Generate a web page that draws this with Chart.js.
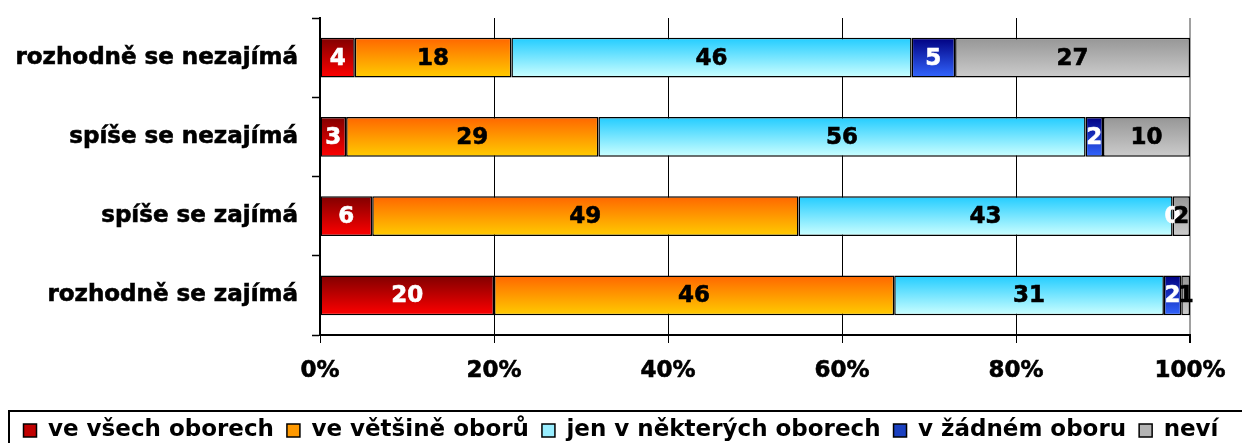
<!DOCTYPE html>
<html>
<head>
<meta charset="utf-8">
<script src="https://cdn.jsdelivr.net/npm/chart.js@4"></script>
<style>
  html, body { margin: 0; padding: 0; background: #fff; }
  #wrap { width: 1242px; height: 443px; }
</style>
</head>
<body>
<div id="wrap"><canvas id="graf"></canvas></div>
<script>
const categories = ['rozhodně se nezajímá', 'spíše se nezajímá', 'spíše se zajímá', 'rozhodně se zajímá'];
const seriesNames = ['ve všech oborech', 've většině oborů', 'jen v některých oborech', 'v žádném oboru', 'neví'];
const veVsech = [4, 3, 6, 20];
const veVetsine = [18, 29, 49, 46];
const jenNekterych = [46, 56, 43, 31];
const vZadnem = [5, 2, 0, 2];
const nevi = [27, 10, 2, 1];
const xTicks = [0, 20, 40, 60, 80, 100];

// barvy: [horni, dolni, popisek, legenda]
const colors = [
    ['#800000', '#ff0000', '#ffffff', '#c00000'],
    ['#ff6600', '#ffcc00', '#000000', '#ff9900'],
    ['#22ccff', '#ccffff', '#000000', '#99eeff'],
    ['#000080', '#3366ff', '#ffffff', '#1a40c0'],
    ['#969696', '#cccccc', '#000000', '#b4b4b4']
];
const FONT = 'DejaVu Sans';
const barPct = 0.5;

function gradFill(i) {
    return function (ctx) {
        const chart = ctx.chart;
        const y = chart.scales && chart.scales.y;
        if (!chart.chartArea || !y || ctx.dataIndex === undefined) return colors[i][1];
        const c = y.getPixelForValue(ctx.dataIndex);
        const half = (y.height / categories.length) * barPct / 2;
        const g = chart.ctx.createLinearGradient(0, c - half, 0, c + half);
        g.addColorStop(0, colors[i][0]);
        g.addColorStop(1, colors[i][1]);
        return g;
    };
}

const allSeries = [veVsech, veVetsine, jenNekterych, vZadnem, nevi];
const datasets = allSeries.map((d, i) => ({
    label: seriesNames[i],
    data: d,
    backgroundColor: gradFill(i),
    borderColor: '#000000',
    borderWidth: 1.5,
    borderSkipped: false,
    barPercentage: barPct,
    categoryPercentage: 1
}));

const popisky = {
    id: 'popisky',
    afterDatasetsDraw(chart) {
        const ctx = chart.ctx;
        ctx.save();
        ctx.font = 'bold 23px "' + FONT + '"';
        ctx.textAlign = 'center';
        ctx.textBaseline = 'middle';
        ctx.lineWidth = 0.6;
        chart.data.datasets.forEach((ds, i) => {
            const meta = chart.getDatasetMeta(i);
            meta.data.forEach((el, j) => {
                ctx.fillStyle = colors[i][2];
                ctx.strokeStyle = colors[i][2];
                const x = (el.x + el.base) / 2;
                ctx.fillText(String(ds.data[j]), x, el.y + 1);
                ctx.strokeText(String(ds.data[j]), x, el.y + 1);
            });
        });
        ctx.restore();
    }
};

// legenda trochu niz + ramecek kolem ni
const ramecek = {
    id: 'ramecek',
    afterLayout(chart) {
        chart.legend.top += 9;
        chart.legend.bottom += 9;
    },
    afterDraw(chart) {
        const ctx = chart.ctx;
        ctx.save();
        ctx.strokeStyle = '#000';
        ctx.lineWidth = 2;
        ctx.strokeRect(9, 411, 1260, 60);
        ctx.restore();
    }
};

const tickFont = { family: FONT, size: 23, weight: 'bold' };

const config = {
    type: 'bar',
    data: { labels: categories, datasets: datasets },
    options: {
        indexAxis: 'y',
        responsive: true,
        maintainAspectRatio: false,
        animation: false,
        layout: { padding: { top: 18, right: 0, left: 0, bottom: 0 } },
        plugins: {
            tooltip: { enabled: false },
            legend: {
                position: 'bottom',
                labels: {
                    color: '#000',
                    font: { family: FONT, size: 23, weight: 'bold' },
                    boxWidth: 13,
                    boxHeight: 13,
                    padding: 13,
                    generateLabels(chart) {
                        return seriesNames.map((n, i) => ({
                            text: n,
                            fillStyle: colors[i][3],
                            strokeStyle: '#000',
                            lineWidth: 1.5,
                            datasetIndex: i
                        }));
                    }
                }
            }
        },
        scales: {
            x: {
                stacked: true,
                min: 0,
                max: 100,
                afterBuildTicks(scale) {
                    scale.ticks = xTicks.map(v => ({ value: v }));
                },
                afterFit(scale) {
                    scale.height = 62;
                    scale.paddingRight = 52;
                },
                ticks: {
                    color: '#000',
                    font: tickFont,
                    padding: 14,
                    textStrokeColor: '#000',
                    textStrokeWidth: 0.6,
                    callback: v => v + '%'
                },
                grid: {
                    color: ctx => ctx.index === 5 ? '#a0a0a0' : '#000',
                    lineWidth: ctx => ctx.index === 5 ? 2 : 1,
                    tickLength: 8,
                    tickColor: '#000'
                },
                border: { color: '#000', width: 2 }
            },
            y: {
                stacked: true,
                afterFit(scale) {
                    scale.width = 320;
                    scale.paddingTop = 0;
                    scale.paddingBottom = 0;
                },
                ticks: {
                    color: '#000',
                    font: tickFont,
                    padding: 14,
                    textStrokeColor: '#000',
                    textStrokeWidth: 0.6
                },
                grid: {
                    offset: true,
                    drawOnChartArea: false,
                    tickLength: 8,
                    tickColor: '#000',
                    tickWidth: 1.5
                },
                border: { color: '#000', width: 2 }
            }
        }
    },
    plugins: [popisky, ramecek]
};

const grafCtx = document.getElementById('graf').getContext('2d');
var graf = new Chart(grafCtx, config);
</script>
</body>
</html>
